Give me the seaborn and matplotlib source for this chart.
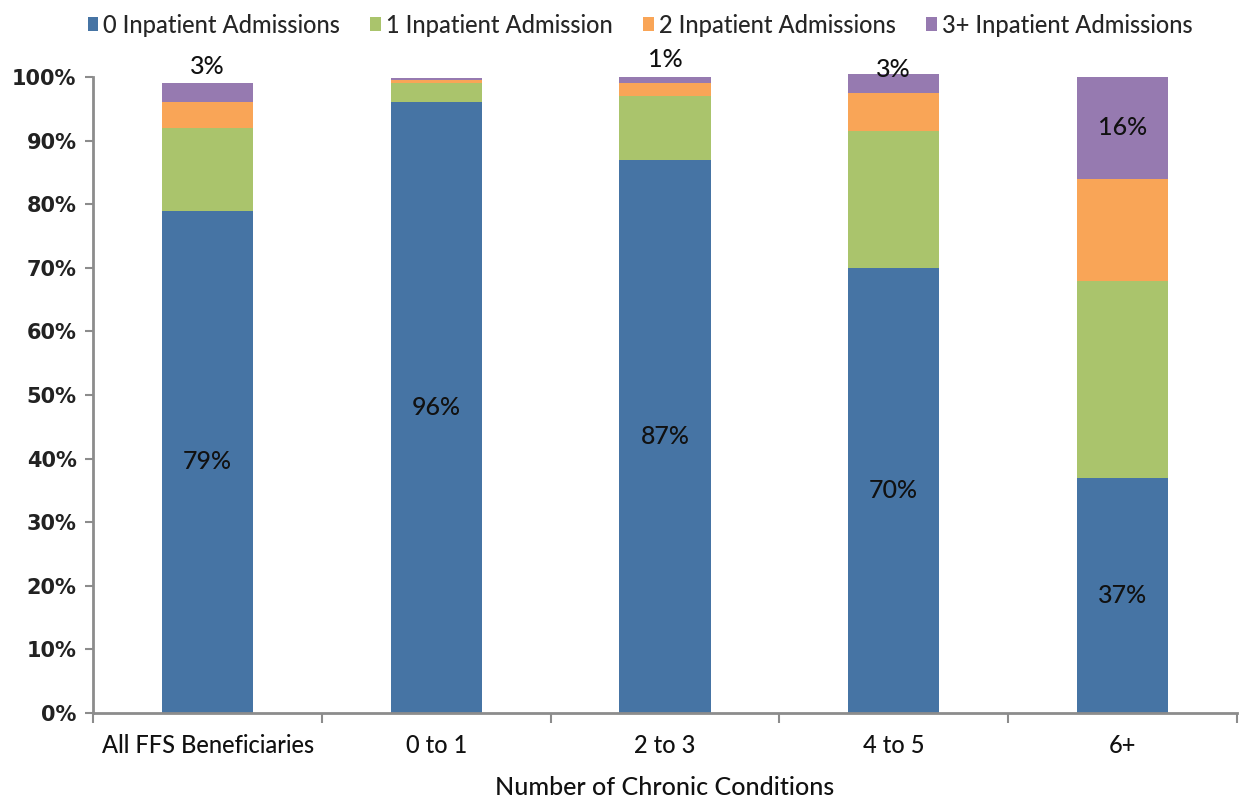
import matplotlib
matplotlib.use("Agg")
import matplotlib.pyplot as plt
import seaborn as sns
import pandas as pd
import numpy as np

# Share of beneficiaries by inpatient admissions, per chronic-condition group
groups = ["All FFS Beneficiaries", "0 to 1", "2 to 3", "4 to 5", "6+"]
series = ["0 Inpatient Admissions", "1 Inpatient Admission",
          "2 Inpatient Admissions", "3+ Inpatient Admissions"]
adm0 = [79, 96, 87, 70, 37]
adm1 = [13, 3, 10, 21.5, 31]
adm2 = [4, 0.5, 2, 6, 16]
adm3 = [3, 0.4, 1, 3, 16]
y_ticks = [0, 10, 20, 30, 40, 50, 60, 70, 80, 90, 100]
colors = ["#4674A4", "#AAC46C", "#F9A557", "#967AB0"]

sns.set_theme(style="white")
plt.rcParams["font.family"] = ["Lato", "DejaVu Sans"]
TXT = "#111111"
W = "medium"

df = pd.DataFrame({"group": groups, "a0": adm0, "a1": adm1, "a2": adm2, "a3": adm3})
layers = [df["a0"], df["a1"], df["a2"], df["a3"]]
cum = np.cumsum(np.vstack(layers), axis=0)

fig = plt.figure(figsize=(12.43, 7.97), dpi=100)
ax = fig.add_axes([0.075, 0.1054, 0.92, 0.798])

# Stacked bars: draw cumulative totals from the top layer down
for i in range(3, -1, -1):
    sns.barplot(x=df["group"], y=cum[i], color=colors[i], width=0.4,
                saturation=1, ax=ax, label=series[i], clip_on=False,
                linewidth=0)

ax.set_ylim(0, 100)
ax.set_xlim(-0.5, 4.5)
ax.set_yticks(y_ticks)
ax.set_yticklabels([f"{t}%" for t in y_ticks], fontsize=15,
                   fontweight="bold", family=["DejaVu Sans"], color="#222222")
ax.set_xticks(range(len(groups)))
ax.set_xticklabels(groups, fontsize=17, color=TXT, fontweight=W)
ax.tick_params(axis="x", length=0, pad=15)
ax.tick_params(axis="y", left=True, length=6, width=1.5, color="#8c8c8c", pad=6)
# category separators on the x axis
ax.set_xticks(np.arange(-0.5, 5, 1), minor=True)
ax.tick_params(axis="x", which="minor", bottom=True, length=7, width=1.5,
               color="#8c8c8c")
for s in ["top", "right"]:
    ax.spines[s].set_visible(False)
for s in ["left", "bottom"]:
    ax.spines[s].set_color("#8c8c8c")
    ax.spines[s].set_linewidth(2)
ax.set_xlabel("Number of Chronic Conditions", fontsize=18, color=TXT,
              labelpad=14, fontweight=W)
ax.set_ylabel("")

# value labels
for j in range(len(groups)):
    ax.text(j, adm0[j] / 2, f"{adm0[j]:.0f}%", ha="center", va="center",
            fontsize=18, color=TXT, fontweight=W)
top_offsets = {0: 4, 2: 4, 3: -5}
for j, off in top_offsets.items():
    ax.annotate(f"{adm3[j]:.0f}%", (j, cum[3][j]), xytext=(0, off),
                textcoords="offset points", ha="center", va="bottom",
                fontsize=18, color=TXT, fontweight=W, annotation_clip=False)
ax.text(4, cum[2][4] + adm3[4] / 2, f"{adm3[4]:.0f}%", ha="center",
        va="center", fontsize=18, color=TXT, fontweight=W)

handles, labels = ax.get_legend_handles_labels()
order = [labels.index(s) for s in series]
ax.legend([handles[k] for k in order], series, loc="upper center",
          bbox_to_anchor=(0.478, 1.133), ncol=4, frameon=False,
          prop={"size": 17, "weight": W},
          handlelength=0.45, handleheight=0.55, handletextpad=0.2,
          columnspacing=1.3)

fig.savefig("out.png", dpi=100)
